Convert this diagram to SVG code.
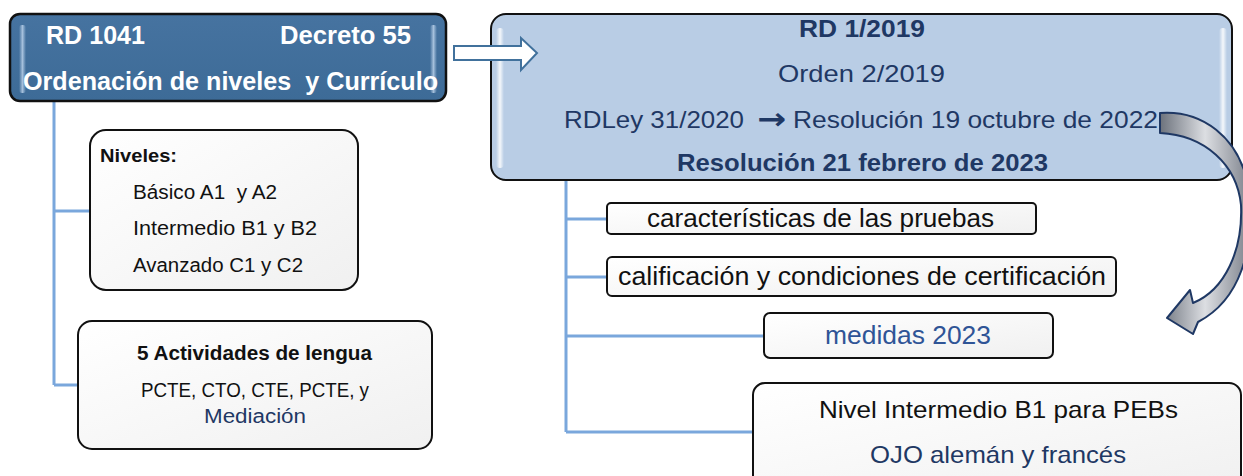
<svg xmlns="http://www.w3.org/2000/svg" width="1243" height="476" viewBox="0 0 1243 476">
<defs>
<linearGradient id="gBox" x1="0" y1="0" x2="1" y2="1">
<stop offset="0" stop-color="#ffffff"/><stop offset="1" stop-color="#f0f0f0"/>
</linearGradient>
<linearGradient id="gDark" x1="0" y1="0" x2="0" y2="1">
<stop offset="0" stop-color="#4673a0"/><stop offset="1" stop-color="#3d6b97"/>
</linearGradient>
<linearGradient id="gCurve" x1="0" y1="0" x2="1" y2="0">
<stop offset="0" stop-color="#6c727c"/><stop offset="0.5" stop-color="#dcdee2"/><stop offset="1" stop-color="#7b808a"/>
</linearGradient>
<linearGradient id="gHi" x1="0" y1="0" x2="1" y2="0">
<stop offset="0" stop-color="#ffffff" stop-opacity="0"/><stop offset="0.5" stop-color="#ffffff" stop-opacity="0.85"/><stop offset="1" stop-color="#ffffff" stop-opacity="0"/>
</linearGradient>
<linearGradient id="gHiD" x1="0" y1="0" x2="1" y2="0">
<stop offset="0" stop-color="#cfe2f7" stop-opacity="0"/><stop offset="0.5" stop-color="#cfe2f7" stop-opacity="0.7"/><stop offset="1" stop-color="#cfe2f7" stop-opacity="0"/>
</linearGradient>
</defs>
<style>
text{font-family:"Liberation Sans",Arial,sans-serif;}
text.arr{font-family:"DejaVu Sans",sans-serif;font-size:30px;font-weight:bold;}
.lb{fill:url(#gBox);stroke:#111;stroke-width:2;}
.conn{fill:none;stroke:#7aa7dc;stroke-width:3;}
.w{fill:#fff;font-weight:bold;font-size:25px;}
.nv{fill:#1f3864;}
.k{fill:#111;}
.b{font-weight:bold;}
</style>

<g id="connectors">
<path class="conn" d="M54,101 V385 M54,211 H90 M54,385 H78"/>
<path class="conn" d="M566,180 V432 M566,219 H607 M566,277 H607 M566,336 H764 M566,432 H753"/>
</g>

<g id="node-rd1041">
<rect x="10" y="14" width="436" height="87" rx="10" fill="url(#gDark)" stroke="#111" stroke-width="2.5"/>
<rect x="19" y="25" width="7" height="68" rx="3" fill="url(#gHiD)"/>
<rect x="430" y="25" width="7" height="68" rx="3" fill="url(#gHiD)"/>
<text class="w" x="46" y="44" textLength="99" lengthAdjust="spacingAndGlyphs">RD 1041</text>
<text class="w" x="280" y="44" textLength="131" lengthAdjust="spacingAndGlyphs">Decreto 55</text>
<text class="w" x="23" y="90" textLength="415" lengthAdjust="spacingAndGlyphs" xml:space="preserve">Ordenación de niveles  y Currículo</text>
</g>

<g id="node-rd2019">
<rect x="491" y="14" width="741" height="166" rx="15" fill="#b9cde5" stroke="#111" stroke-width="2"/>
<rect x="496" y="28" width="8" height="140" rx="4" fill="url(#gHi)"/>
<rect x="1219" y="28" width="8" height="140" rx="4" fill="url(#gHi)"/>
<text class="nv b" x="799" y="37" font-size="23" textLength="126" lengthAdjust="spacingAndGlyphs">RD 1/2019</text>
<text class="nv" x="778" y="82" font-size="24" textLength="167" lengthAdjust="spacingAndGlyphs">Orden 2/2019</text>
<text class="nv" x="564" y="128" font-size="24" textLength="180" lengthAdjust="spacingAndGlyphs">RDLey 31/2020</text>
<text class="nv arr" x="757" y="129" textLength="29" lengthAdjust="spacingAndGlyphs">→</text>
<text class="nv" x="793" y="128" font-size="24" textLength="365" lengthAdjust="spacingAndGlyphs">Resolución 19 octubre de 2022</text>
<text class="nv b" x="677" y="171" font-size="24" textLength="371" lengthAdjust="spacingAndGlyphs">Resolución 21 febrero de 2023</text>
</g>

<g id="hollow-arrow">
<path d="M454,46 H521 V38 L537,53 L521,70 V60 H454 Z" fill="#fff" stroke="#41719c" stroke-width="2"/>
</g>

<g id="curved-arrow">
<path d="M1160,113 C1200,110 1240,135 1249,190 C1255,250 1240,300 1198,322 L1193,334 L1167,318 L1190,290 L1193,303 C1225,290 1243,250 1241,205 C1237,165 1205,135 1160,133 Z" fill="url(#gCurve)" stroke="#1f3864" stroke-width="2" stroke-linejoin="round"/>
</g>

<g id="node-niveles">
<rect class="lb" x="90" y="130" width="268" height="160" rx="16"/>
<text class="k b" x="100" y="162" font-size="19" textLength="77" lengthAdjust="spacingAndGlyphs">Niveles:</text>
<text class="k" x="133" y="199" font-size="20" textLength="144" lengthAdjust="spacingAndGlyphs" xml:space="preserve">Básico A1  y A2</text>
<text class="k" x="133" y="235" font-size="20" textLength="184" lengthAdjust="spacingAndGlyphs">Intermedio B1 y B2</text>
<text class="k" x="133" y="272" font-size="20" textLength="170" lengthAdjust="spacingAndGlyphs">Avanzado C1 y C2</text>
</g>

<g id="node-actividades">
<rect class="lb" x="78" y="321" width="354" height="128" rx="14"/>
<text class="k b" x="137" y="360" font-size="20" textLength="235" lengthAdjust="spacingAndGlyphs">5 Actividades de lengua</text>
<text class="k" x="141" y="397" font-size="20" textLength="228" lengthAdjust="spacingAndGlyphs">PCTE, CTO, CTE, PCTE, y</text>
<text class="nv" x="204" y="423" font-size="20" textLength="102" lengthAdjust="spacingAndGlyphs">Mediación</text>
</g>

<g id="node-caracteristicas">
<rect class="lb" x="607" y="203" width="429" height="31" rx="4"/>
<text class="k" x="647" y="227" font-size="26" textLength="347" lengthAdjust="spacingAndGlyphs">características de las pruebas</text>
</g>

<g id="node-calificacion">
<rect class="lb" x="607" y="257" width="509" height="39" rx="5"/>
<text class="k" x="618" y="285" font-size="26" textLength="488" lengthAdjust="spacingAndGlyphs">calificación y condiciones de certificación</text>
</g>

<g id="node-medidas">
<rect class="lb" x="764" y="313" width="289" height="45" rx="6"/>
<text x="825" y="344" font-size="25" fill="#2f5496" textLength="166" lengthAdjust="spacingAndGlyphs">medidas 2023</text>
</g>

<g id="node-nivel-b1">
<rect class="lb" x="753" y="383" width="488" height="110" rx="12"/>
<text class="k" x="819" y="418" font-size="24" textLength="359" lengthAdjust="spacingAndGlyphs">Nivel Intermedio B1 para PEBs</text>
<text class="nv" x="870" y="463" font-size="24" textLength="256" lengthAdjust="spacingAndGlyphs">OJO alemán y francés</text>
</g>
</svg>
